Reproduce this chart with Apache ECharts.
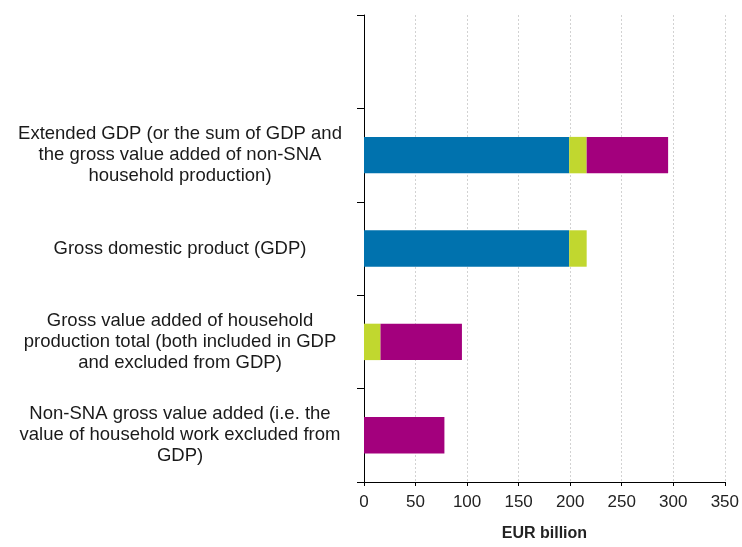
<!DOCTYPE html>
<html>
<head>
<meta charset="utf-8">
<script src="https://cdn.jsdelivr.net/npm/echarts@6/dist/echarts.min.js"></script>
<style>
html,body{margin:0;padding:0;background:#fff;overflow:hidden;}
#chart{width:742px;height:547px;}
</style>
</head>
<body>
<div id="chart"></div>
<script>
const categories = [
  '',
  'Extended GDP (or the sum of GDP and\nthe gross value added of non-SNA\nhousehold production)',
  'Gross domestic product (GDP)',
  'Gross value added of household\nproduction total (both included in GDP\nand excluded from GDP)',
  'Non-SNA gross value added (i.e. the\nvalue of household work excluded from\nGDP)'
];
const gdpExclHousehold = [null, 199, 199, null, null];
const householdInGdp = [null, 17, 17, 16, null];
const nonSnaHousehold = [null, 79, null, 79, 78];
const xTicks = [0, 50, 100, 150, 200, 250, 300, 350];

const chart = echarts.init(document.getElementById('chart'));
const font = 'Liberation Sans, Arial, sans-serif';
chart.setOption({
  animation: false,
  grid: {left: 364, right: 15, top: 15, bottom: 61, containLabel: false},
  xAxis: {
    type: 'value', min: xTicks[0], max: xTicks[xTicks.length - 1], interval: 50,
    name: 'EUR billion', nameLocation: 'middle', nameGap: 44,
    nameTextStyle: {fontFamily: font, fontSize: 16, fontWeight: 'bold', color: '#222'},
    axisLine: {show: true, lineStyle: {color: '#000', width: 1}},
    axisTick: {show: true, length: 4, lineStyle: {color: '#000'}},
    axisLabel: {fontFamily: font, fontSize: 17, color: '#222', margin: 12},
    splitLine: {show: true, lineStyle: {color: '#d2d2d2', type: [2, 2], width: 1}}
  },
  yAxis: {
    type: 'category', data: categories, inverse: true,
    axisLine: {show: true, lineStyle: {color: '#000', width: 1}},
    axisTick: {show: true, length: 7, lineStyle: {color: '#000'}},
    axisLabel: {fontFamily: font, fontSize: 18.5, color: '#1a1a1a', align: 'center', margin: 184, lineHeight: 21, interval: 0},
    splitLine: {show: false}
  },
  series: [
    {name: 'GDP excluding household production', type: 'bar', stack: 'a', data: gdpExclHousehold, barWidth: '39%', itemStyle: {color: '#0072AE'}},
    {name: 'Household production included in GDP', type: 'bar', stack: 'a', data: householdInGdp, itemStyle: {color: '#C1D72F'}},
    {name: 'Non-SNA household production', type: 'bar', stack: 'a', data: nonSnaHousehold, itemStyle: {color: '#A3007D'}}
  ]
});
</script>
</body>
</html>
